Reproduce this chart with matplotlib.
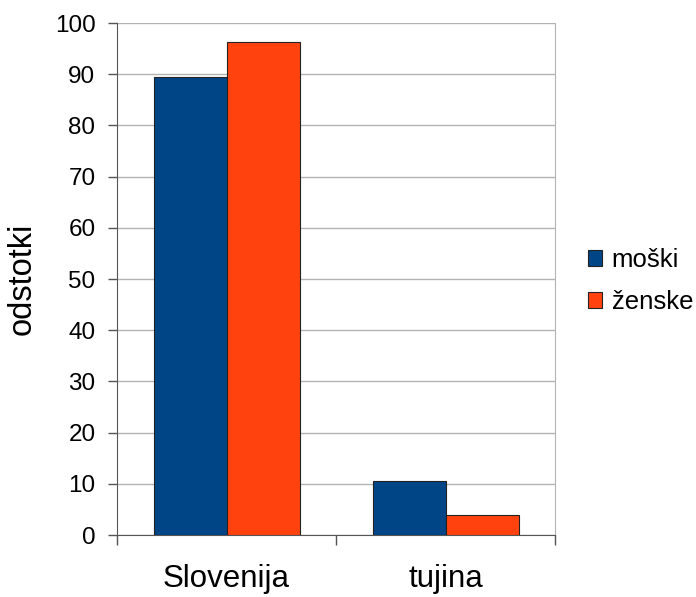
import matplotlib
matplotlib.use('Agg')
import matplotlib.pyplot as plt
import numpy as np

plt.rcParams['font.family'] = ['Liberation Sans', 'DejaVu Sans']

# data
categories = ['Slovenija', 'tujina']
series = ['moški', 'ženske']
moski = [89.5, 10.5]
zenske = [96.2, 3.9]
colors = {'moški': '#004586', 'ženske': '#ff420e'}

fig = plt.figure(figsize=(6.96, 5.97), dpi=100)
ax = fig.add_axes([117 / 696, 62 / 597, (555 - 117) / 696, (535 - 23) / 597])

x = np.arange(len(categories))
w = 1 / 3
ax.bar(x - w / 2, moski, w, color=colors['moški'], edgecolor='#222222', linewidth=0.8, label='moški', zorder=3)
ax.bar(x + w / 2, zenske, w, color=colors['ženske'], edgecolor='#222222', linewidth=0.8, label='ženske', zorder=3)

ax.set_xlim(-0.5, len(categories) - 0.5)
ax.set_ylim(0, 100)
ax.set_yticks(np.arange(0, 101, 10))
ax.yaxis.grid(True, color='#b3b3b3', linewidth=1, zorder=0)
ax.tick_params(axis='y', labelsize=17.5, length=6.5, width=1, color='#555555', pad=9)

# category boundaries get the tick marks, labels sit in the middle
ax.set_xticks(np.arange(-0.5, len(categories), 1))
ax.set_xticklabels([])
ax.set_xticks(x, minor=True)
ax.set_xticklabels(categories, minor=True)
ax.tick_params(axis='x', which='major', length=7.5, width=1, color='#555555')
ax.tick_params(axis='x', which='minor', length=0, labelsize=22.5, pad=21)

ax.spines['top'].set_visible(False)
ax.spines['right'].set_color('#b3b3b3')
ax.spines['left'].set_color('#555555')
ax.spines['bottom'].set_color('#555555')

ax.set_ylabel('odstotki', fontsize=23.5, labelpad=12)

ax.legend(loc='center left', bbox_to_anchor=(588 / 696, 1 - 281 / 597), bbox_transform=fig.transFigure,
          frameon=False, fontsize=18.5, handlelength=0.56, handleheight=0.56, handletextpad=0.36,
          labelspacing=0.7, borderaxespad=0, borderpad=0)

fig.savefig('out.png', dpi=100)
